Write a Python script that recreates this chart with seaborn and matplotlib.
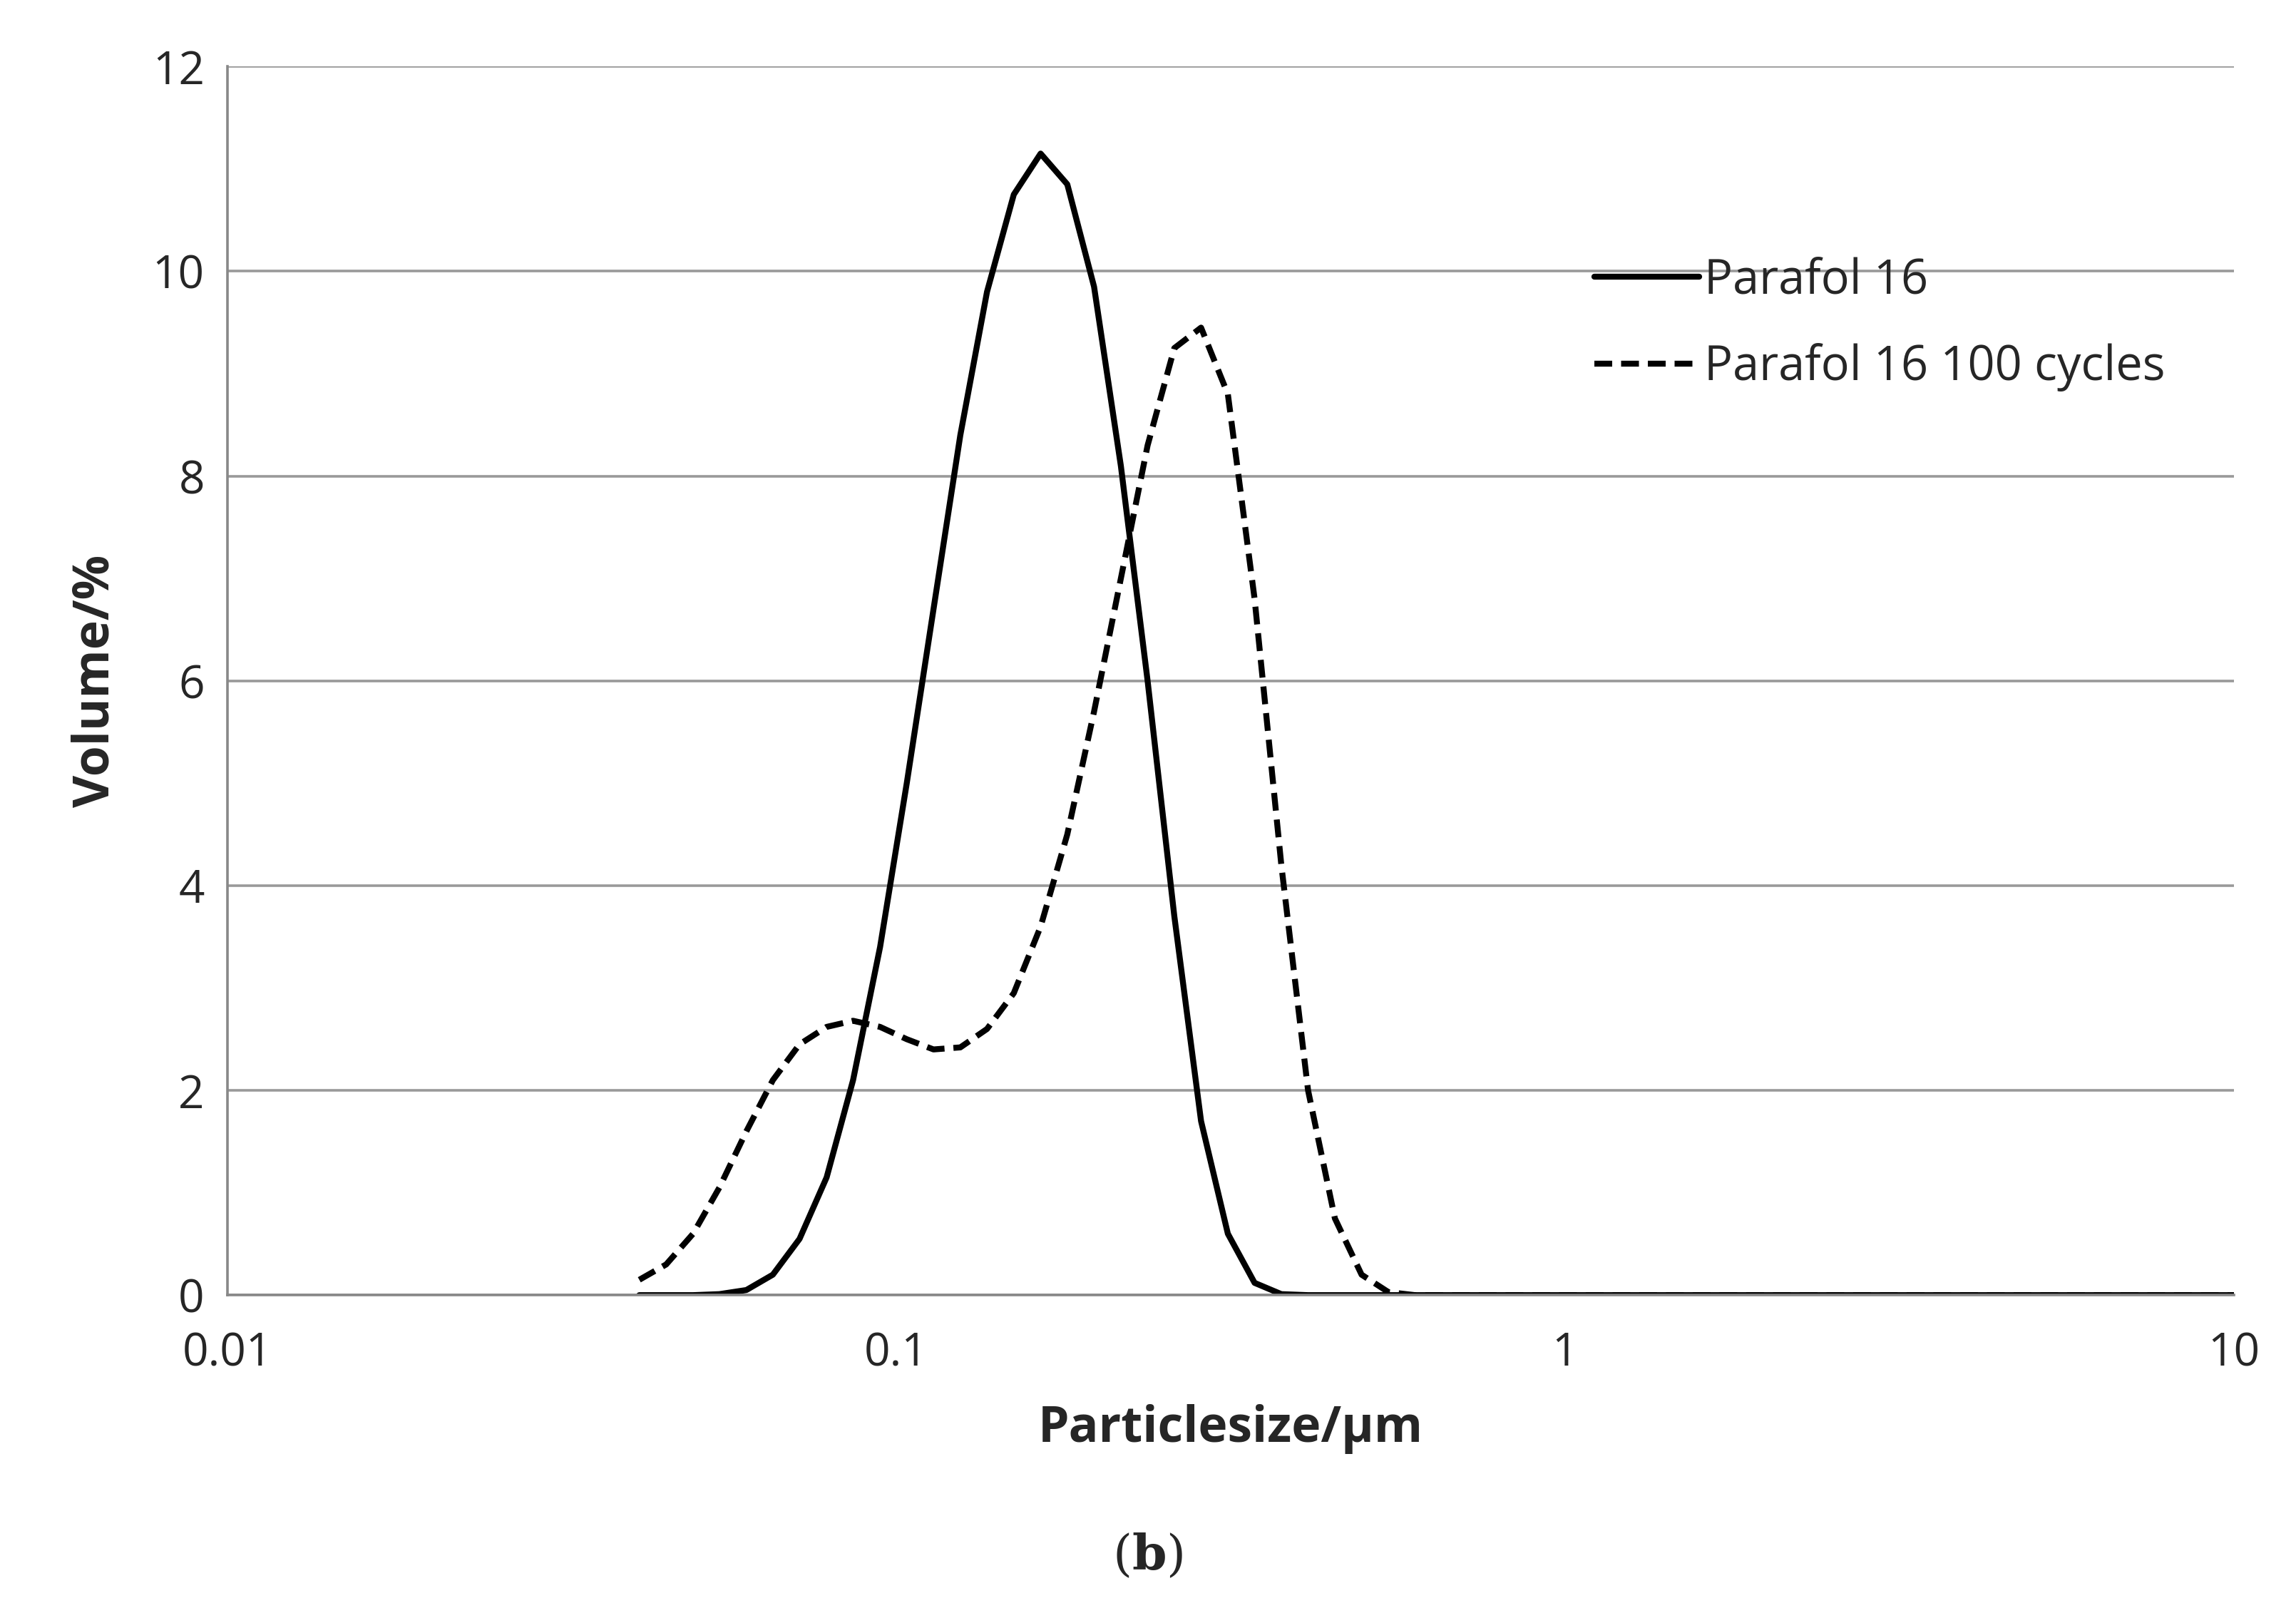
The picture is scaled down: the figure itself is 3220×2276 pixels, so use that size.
import numpy as np
import pandas as pd
import seaborn as sns
import matplotlib.pyplot as plt

sizes = [0.0413, 0.0453, 0.0497, 0.0544, 0.0597, 0.0654, 0.0717, 0.0787, 0.0862, 0.0946,
         0.1037, 0.1137, 0.1247, 0.1367, 0.1499, 0.1644, 0.1802, 0.1976, 0.2167, 0.2376,
         0.2605, 0.2856, 0.3132, 0.3434, 0.3765, 0.4128, 0.4527, 0.4963, 0.5442, 0.5967,
         0.6543, 0.7174, 1.0, 2.0, 5.0, 10.0]
parafol = [0, 0, 0, 0.01, 0.05, 0.2, 0.55, 1.15, 2.1, 3.4,
           5.0, 6.7, 8.4, 9.8, 10.75, 11.15, 10.85, 9.85, 8.1, 6.0,
           3.7, 1.7, 0.6, 0.12, 0.01, 0, 0, 0, 0, 0,
           0, 0, 0, 0, 0, 0]
cycled = [0.15, 0.3, 0.6, 1.05, 1.6, 2.1, 2.45, 2.62, 2.68, 2.62,
          2.5, 2.4, 2.42, 2.6, 2.95, 3.6, 4.5, 5.7, 7.0, 8.3,
          9.25, 9.45, 8.8, 6.8, 4.2, 2.0, 0.75, 0.2, 0.03, 0,
          0, 0, 0, 0, 0, 0]

sns.set_style("white")
plt.rcParams['font.family'] = ['Open Sans', 'DejaVu Sans']
plt.rcParams['mathtext.fontset'] = 'dejavuserif'

fig = plt.figure(figsize=(16.1, 11.38), dpi=200)
ax = fig.add_axes([0.099, 0.202, 0.874, 0.757])

df = pd.DataFrame({'x': sizes, 'a': parafol, 'b': cycled})
sns.lineplot(data=df, x='x', y='a', ax=ax, color='black', lw=3, label='Parafol 16')
sns.lineplot(data=df, x='x', y='b', ax=ax, color='black', lw=3, linestyle=(0, (3, 1.5)),
             label='Parafol 16 100 cycles')

ax.set_xscale('log')
ax.set_xlim(0.01, 10)
ax.set_ylim(0, 12)
ax.set_yticks(range(0, 13, 2))
ax.set_xticks([0.01, 0.1, 1, 10])
ax.set_xticklabels(['0.01', '0.1', '1', '10'])
ax.minorticks_off()
ax.yaxis.grid(True, color='#999999', lw=1.3)
for s in ['top', 'right']:
    ax.spines[s].set_visible(False)
for s in ['left', 'bottom']:
    ax.spines[s].set_color('#888888')
    ax.spines[s].set_linewidth(1.3)
ax.tick_params(axis='both', labelsize=23, length=8, color='#888888', width=1.3, direction='out')
ax.tick_params(axis='x', pad=10)
ax.set_xlabel('Particlesize/µm', fontsize=25, fontweight='bold', labelpad=14)
ax.set_ylabel('Volume/%', fontsize=25, fontweight='bold', labelpad=16)

ax.legend(loc='upper left', bbox_to_anchor=(0.66, 0.88), frameon=False, fontsize=24,
          handlelength=2.2, handletextpad=0.1, labelspacing=0.8)

fig.text(0.5, 0.025, r'$(\mathbf{b})$', fontsize=25, ha='center', va='bottom')

fig.savefig('out.png', dpi=200)
